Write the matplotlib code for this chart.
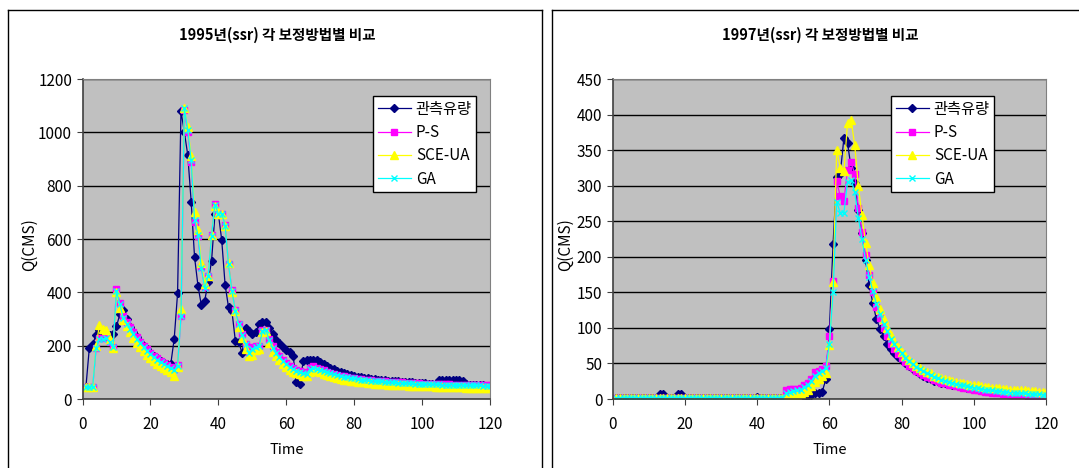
import matplotlib
matplotlib.use("Agg")
import matplotlib.pyplot as plt
from matplotlib.lines import Line2D

plt.rcParams["font.family"] = ["Noto Sans CJK KR", "DejaVu Sans"]

# 시간축 (1~120)
time = list(range(1, 121))
series_names = ["관측유량", "P-S", "SCE-UA", "GA"]

# 1995년 자료
obs_1995 = [
    44, 190, 207, 240, 257, 250, 248, 240, 245, 272,
    318, 333, 300, 270, 250, 232, 215, 200, 186, 173,
    162, 152, 143, 136, 130, 132, 225, 397, 1080, 1000,
    915, 740, 532, 425, 352, 369, 440, 517, 692, 695,
    596, 427, 344, 330, 219, 215, 171, 265, 256, 244,
    250, 282, 287, 287, 265, 242, 221, 209, 196, 185,
    175, 163, 65, 58, 142, 145, 147, 148, 145, 140,
    132, 124, 117, 111, 105, 100, 96, 92, 89, 86,
    84, 82, 80, 78, 76, 74, 73, 72, 70, 69,
    68, 67, 66, 65, 64, 63, 62, 61, 60, 60,
    59, 58, 58, 57, 70, 71, 70, 71, 72, 70,
    70, 69, 55, 54, 53, 52, 52, 51, 50, 50,
]
ps_1995 = [
    45, 45, 45, 190, 228, 228, 232, 215, 195, 411,
    360, 310, 290, 270, 250, 232, 215, 200, 186, 173,
    162, 152, 143, 135, 128, 120, 112, 127, 310, 1085,
    1000, 890, 665, 610, 495, 420, 463, 614, 730, 695,
    695, 652, 507, 407, 332, 282, 244, 207, 178, 195,
    197, 198, 257, 258, 225, 197, 175, 160, 146, 134,
    124, 116, 109, 104, 100, 98, 118, 122, 118, 113,
    108, 103, 99, 95, 91, 88, 85, 82, 80, 78,
    76, 74, 72, 71, 70, 69, 68, 67, 66, 65,
    64, 63, 62, 62, 61, 60, 60, 59, 59, 58,
    58, 57, 57, 56, 56, 55, 55, 55, 54, 54,
    54, 53, 53, 53, 52, 52, 52, 51, 51, 51,
]
sce_1995 = [
    45, 45, 45, 200, 278, 262, 258, 225, 190, 400,
    340, 298, 272, 250, 230, 210, 194, 180, 166, 154,
    143, 133, 124, 116, 108, 100, 85, 120, 337, 1090,
    1020, 910, 700, 635, 510, 430, 463, 614, 725, 695,
    695, 650, 510, 400, 330, 270, 230, 188, 160, 165,
    185, 187, 250, 255, 210, 178, 160, 145, 132, 120,
    110, 102, 96, 92, 88, 86, 100, 108, 105, 100,
    95, 90, 86, 82, 79, 76, 73, 71, 69, 67,
    65, 63, 62, 61, 60, 58, 57, 56, 55, 54,
    54, 53, 52, 51, 51, 50, 50, 49, 49, 48,
    48, 47, 47, 46, 46, 46, 45, 45, 45, 44,
    44, 44, 43, 43, 43, 42, 42, 42, 42, 41,
]
ga_1995 = [
    45, 45, 45, 190, 225, 225, 228, 215, 195, 405,
    355, 305, 283, 262, 243, 225, 209, 194, 180, 168,
    157, 147, 138, 130, 122, 115, 108, 125, 310, 1090,
    1010, 895, 670, 615, 490, 415, 460, 612, 728, 695,
    695, 650, 505, 405, 330, 280, 240, 205, 172, 188,
    195, 197, 255, 258, 222, 192, 172, 157, 143, 131,
    121, 113, 106, 101, 97, 95, 112, 117, 114, 109,
    105, 100, 96, 92, 89, 86, 83, 81, 79, 77,
    75, 73, 71, 70, 69, 68, 67, 66, 65, 64,
    63, 62, 61, 61, 60, 59, 59, 58, 58, 57,
    57, 56, 56, 55, 55, 54, 54, 54, 53, 53,
    53, 52, 52, 52, 51, 51, 51, 50, 50, 50,
]

# 1997년 자료
obs_1997 = [
    1, 1, 1, 1, 1, 1, 1, 1, 1, 1,
    1, 1, 7, 7, 1, 1, 1, 7, 7, 1,
    1, 1, 1, 1, 1, 1, 1, 1, 1, 1,
    1, 1, 1, 1, 1, 1, 1, 1, 1, 3,
    1, 1, 1, 1, 1, 1, 1, 0, 0, 0,
    0, 1, 2, 4, 6, 8, 9, 10, 28, 99,
    218, 312, 317, 367, 360, 325, 304, 266, 233, 195,
    160, 135, 112, 99, 88, 78, 71, 64, 59, 55,
    50, 46, 42, 39, 35, 33, 30, 28, 26, 25,
    23, 22, 21, 20, 19, 18, 17, 16, 16, 15,
    14, 14, 13, 13, 12, 12, 11, 11, 10, 10,
    9, 9, 9, 8, 8, 8, 7, 7, 7, 6,
]
ps_1997 = [
    2, 2, 2, 2, 2, 2, 2, 2, 2, 2,
    2, 2, 2, 2, 2, 2, 2, 2, 2, 2,
    2, 2, 2, 2, 2, 2, 2, 2, 2, 2,
    2, 2, 2, 2, 2, 2, 2, 2, 2, 2,
    2, 2, 2, 2, 2, 2, 2, 13, 14, 14,
    14, 15, 20, 22, 28, 38, 40, 42, 46, 88,
    166, 306, 285, 278, 322, 333, 316, 268, 235, 202,
    174, 150, 130, 114, 100, 88, 78, 70, 63, 57,
    52, 47, 43, 40, 37, 34, 31, 29, 27, 25,
    23, 22, 20, 19, 18, 17, 16, 15, 14, 13,
    12, 11, 10, 10, 9, 8, 8, 7, 7, 6,
    6, 5, 5, 5, 4, 4, 4, 3, 3, 3,
]
sce_1997 = [
    2, 2, 2, 2, 2, 2, 2, 2, 2, 2,
    2, 2, 2, 2, 2, 2, 2, 2, 2, 2,
    2, 2, 2, 2, 2, 2, 2, 2, 2, 2,
    2, 2, 2, 2, 2, 2, 2, 2, 2, 2,
    2, 2, 2, 2, 2, 2, 2, 2, 4, 5,
    6, 7, 10, 13, 18, 24, 28, 33, 36, 76,
    165, 350, 325, 320, 388, 392, 357, 299, 259, 219,
    188, 163, 144, 126, 113, 100, 90, 80, 73, 66,
    60, 55, 51, 47, 44, 41, 38, 36, 33, 31,
    30, 28, 27, 26, 24, 23, 22, 21, 20, 19,
    19, 18, 17, 17, 16, 15, 15, 14, 14, 13,
    13, 12, 12, 12, 11, 11, 11, 10, 10, 10,
]
ga_1997 = [
    2, 2, 2, 2, 2, 2, 2, 2, 2, 2,
    2, 2, 2, 2, 2, 2, 2, 2, 2, 2,
    2, 2, 2, 2, 2, 2, 2, 2, 2, 2,
    2, 2, 2, 2, 2, 2, 2, 2, 2, 2,
    2, 2, 2, 2, 2, 2, 2, 8, 10, 11,
    12, 13, 17, 20, 25, 33, 36, 40, 43, 78,
    150, 277, 262, 262, 305, 308, 291, 255, 225, 195,
    172, 152, 134, 119, 106, 95, 85, 77, 70, 64,
    58, 53, 49, 45, 42, 39, 36, 34, 31, 29,
    27, 26, 24, 23, 21, 20, 19, 18, 17, 16,
    15, 14, 13, 13, 12, 11, 11, 10, 10, 9,
    9, 8, 8, 8, 7, 7, 7, 7, 6, 6,
]

# 계열별 스타일 (Excel 기본 색)
styles = [
    dict(color="#000080", marker="D", markersize=4.2),
    dict(color="#FF00FF", marker="s", markersize=4.2),
    dict(color="#FFFF00", marker="^", markersize=5.2),
    dict(color="#00FFFF", marker="x", markersize=4.5, markeredgewidth=1),
]


def draw_panel(fig, rect, data, title, ymax, ystep, title_x, ylabel_x, legend_xy):
    ax = fig.add_axes(rect)
    ax.set_facecolor("#C0C0C0")
    for name, ys, st in zip(series_names, data, styles):
        ax.plot(time, ys, label=name, linewidth=0.9, **st)
    ax.set_xlim(0, 120)
    ax.set_ylim(0, ymax)
    ax.set_xticks(range(0, 121, 20))
    ax.set_yticks(range(0, ymax + 1, ystep))
    ax.yaxis.grid(True, color="black", linewidth=1)
    ax.set_axisbelow(True)
    ax.tick_params(labelsize=11, direction="out", length=4, color="#404040")
    ax.tick_params(axis="x", pad=8)
    for s in ["top", "right"]:
        ax.spines[s].set_color("#808080")
    for s in ["left", "bottom"]:
        ax.spines[s].set_color("#404040")
        ax.spines[s].set_linewidth(1.2)

    fig.text(title_x, 1 - 35 / 468, title, ha="center", va="center",
             fontsize=10.5, fontweight="bold")
    fig.text(ylabel_x, 1 - 245 / 468, "Q(CMS)", ha="center", va="center",
             rotation=90, fontsize=11)
    fig.text(rect[0] + rect[2] / 2, 1 - 450 / 468, "Time", ha="center",
             va="center", fontsize=10.5)

    leg = ax.legend(loc="upper left", bbox_to_anchor=legend_xy,
                    bbox_transform=fig.transFigure, borderaxespad=0,
                    fancybox=False, framealpha=1, edgecolor="black",
                    fontsize=11, handlelength=2.2, handletextpad=0.3,
                    labelspacing=0.42, borderpad=0.3)
    leg.get_frame().set_linewidth(1)
    return ax


def main():
    fig = plt.figure(figsize=(10.79, 4.68), dpi=100)

    # 차트 테두리
    W, H = 1079, 468
    for x0, x1 in [(8, 542), (552, 1090)]:
        fig.add_artist(Line2D([x0 / W, x1 / W], [1 - 10 / H, 1 - 10 / H],
                              color="black", linewidth=1))
        fig.add_artist(Line2D([x0 / W, x0 / W], [0, 1 - 10 / H],
                              color="black", linewidth=1))
        fig.add_artist(Line2D([x1 / W, x1 / W], [0, 1 - 10 / H],
                              color="black", linewidth=1))

    draw_panel(fig, [82.5 / W, 69 / H, 407.5 / W, 320 / H],
               [obs_1995, ps_1995, sce_1995, ga_1995],
               "1995년(ssr) 각 보정방법별 비교", 1200, 200,
               277 / W, 29 / W, (373 / W, 1 - 96 / H))
    draw_panel(fig, [612.7 / W, 69 / H, 433.5 / W, 320 / H],
               [obs_1997, ps_1997, sce_1997, ga_1997],
               "1997년(ssr) 각 보정방법별 비교", 450, 50,
               820 / W, 565 / W, (891 / W, 1 - 96 / H))

    fig.savefig("out.png", dpi=100)
    plt.close(fig)


if __name__ == "__main__":
    main()
